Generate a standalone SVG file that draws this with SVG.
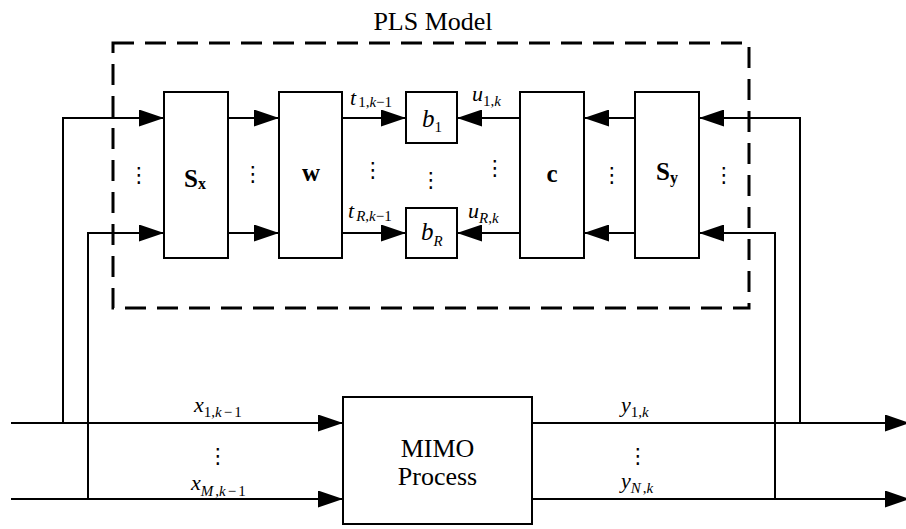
<svg xmlns="http://www.w3.org/2000/svg" width="906" height="529" viewBox="0 0 906 529">
<defs>
<marker id="ah" markerUnits="userSpaceOnUse" markerWidth="25" markerHeight="17" viewBox="0 0 25 17" refX="25" refY="8.5" orient="auto">
<path d="M0,0 L25,8.5 L0,17 Z" fill="#000"/>
</marker>
<style>
.box{fill:#fff;stroke:#000;stroke-width:2}
.ln{fill:none;stroke:#000;stroke-width:2}
.ar{fill:none;stroke:#000;stroke-width:2;marker-end:url(#ah)}
.dash{fill:none;stroke:#000;stroke-width:3;stroke-dasharray:21 11}
text{font-family:"Liberation Serif","Times New Roman",serif;fill:#000}
.lbl{font-size:26px}
.it{font-style:italic;font-size:22px}
.sub{font-size:15px;font-style:normal}
.i{font-style:italic}
.bd{font-weight:bold;font-size:25px}
.bsub{font-weight:bold;font-size:16px}
.dots{font-family:"DejaVu Sans",sans-serif;font-size:21px;text-anchor:middle}
</style>
</defs>
<rect width="906" height="529" fill="#fff"/>
<g id="pls-model">
<rect class="dash" x="113" y="43" width="636" height="265"/>
<text class="lbl" x="433" y="30" text-anchor="middle">PLS Model</text>
</g>
<g id="connectors">
<polyline class="ar" points="63,423 63,118 164,118"/>
<polyline class="ar" points="88,499 88,233 164,233"/>
<line class="ar" x1="228" y1="118" x2="279" y2="118"/>
<line class="ar" x1="228" y1="233" x2="279" y2="233"/>
<line class="ar" x1="342" y1="118" x2="406" y2="118"/>
<line class="ar" x1="342" y1="233" x2="406" y2="233"/>
<line class="ar" x1="520" y1="118" x2="457" y2="118"/>
<line class="ar" x1="520" y1="233" x2="457" y2="233"/>
<line class="ar" x1="635" y1="118" x2="584" y2="118"/>
<line class="ar" x1="635" y1="233" x2="584" y2="233"/>
<polyline class="ar" points="800,423 800,118 699,118"/>
<polyline class="ar" points="775,499 775,233 699,233"/>
<line class="ar" x1="11" y1="423" x2="343" y2="423"/>
<line class="ar" x1="11" y1="499" x2="343" y2="499"/>
<line class="ar" x1="532" y1="423" x2="910" y2="423"/>
<line class="ar" x1="532" y1="499" x2="910" y2="499"/>
</g>
<g id="Sx">
<rect class="box" x="164" y="92" width="64" height="166"/>
<text x="184" y="187"><tspan class="bd">S</tspan><tspan class="bsub" dy="2">x</tspan></text>
</g>
<g id="W">
<rect class="box" x="279" y="92" width="63" height="166"/>
<text class="bd" x="311" y="181" text-anchor="middle">w</text>
</g>
<g id="b1">
<rect class="box" x="406" y="92" width="51" height="51"/>
<text x="422" y="127"><tspan class="it" style="font-size:25px">b</tspan><tspan class="sub" dy="5">1</tspan></text>
</g>
<g id="bR">
<rect class="box" x="406" y="208" width="51" height="50"/>
<text x="421" y="240"><tspan class="it" style="font-size:25px">b</tspan><tspan class="sub i" dy="6">R</tspan></text>
</g>
<g id="C">
<rect class="box" x="520" y="92" width="64" height="166"/>
<text class="bd" x="552" y="182" text-anchor="middle">c</text>
</g>
<g id="Sy">
<rect class="box" x="635" y="92" width="64" height="166"/>
<text x="656" y="180"><tspan class="bd">S</tspan><tspan class="bsub" dy="3">y</tspan></text>
</g>
<g id="mimo">
<rect class="box" x="343" y="397" width="189" height="127"/>
<text class="lbl" x="437.5" y="457" text-anchor="middle">MIMO</text>
<text class="lbl" x="437.5" y="485" text-anchor="middle">Process</text>
</g>
<g id="labels">
<text x="350" y="105"><tspan class="it">t</tspan><tspan class="sub" dx="2" dy="2">1,<tspan class="i">k</tspan>−1</tspan></text>
<text x="348" y="218"><tspan class="it">t</tspan><tspan class="sub" dx="2" dy="3"><tspan class="i">R</tspan>,<tspan class="i">k</tspan>−1</tspan></text>
<text x="472" y="101"><tspan class="it">u</tspan><tspan class="sub" dy="5">1,<tspan class="i">k</tspan></tspan></text>
<text x="468" y="218"><tspan class="it">u</tspan><tspan class="sub" dy="5"><tspan class="i">R</tspan>,<tspan class="i">k</tspan></tspan></text>
<text x="194" y="412"><tspan class="it">x</tspan><tspan class="sub" dy="5">1,<tspan class="i">k</tspan><tspan dx="2">−</tspan><tspan dx="2">1</tspan></tspan></text>
<text x="191" y="490"><tspan class="it">x</tspan><tspan class="sub" dy="6"><tspan class="i">M</tspan><tspan dx="2">,</tspan><tspan class="i">k</tspan><tspan dx="2">−</tspan><tspan dx="2">1</tspan></tspan></text>
<text x="621" y="412"><tspan class="it">y</tspan><tspan class="sub" dy="5">1,<tspan class="i">k</tspan></tspan></text>
<text x="621" y="488"><tspan class="it">y</tspan><tspan class="sub" dy="5"><tspan class="i">N</tspan><tspan dx="2">,</tspan><tspan class="i">k</tspan></tspan></text>
</g>
<g id="ellipses">
<text class="dots" x="139" y="182">⋮</text>
<text class="dots" x="253" y="181">⋮</text>
<text class="dots" x="373" y="177">⋮</text>
<text class="dots" x="431" y="187">⋮</text>
<text class="dots" x="495" y="175">⋮</text>
<text class="dots" x="612" y="182">⋮</text>
<text class="dots" x="724" y="182">⋮</text>
<text class="dots" x="218" y="463">⋮</text>
<text class="dots" x="638" y="463">⋮</text>
</g>
</svg>
